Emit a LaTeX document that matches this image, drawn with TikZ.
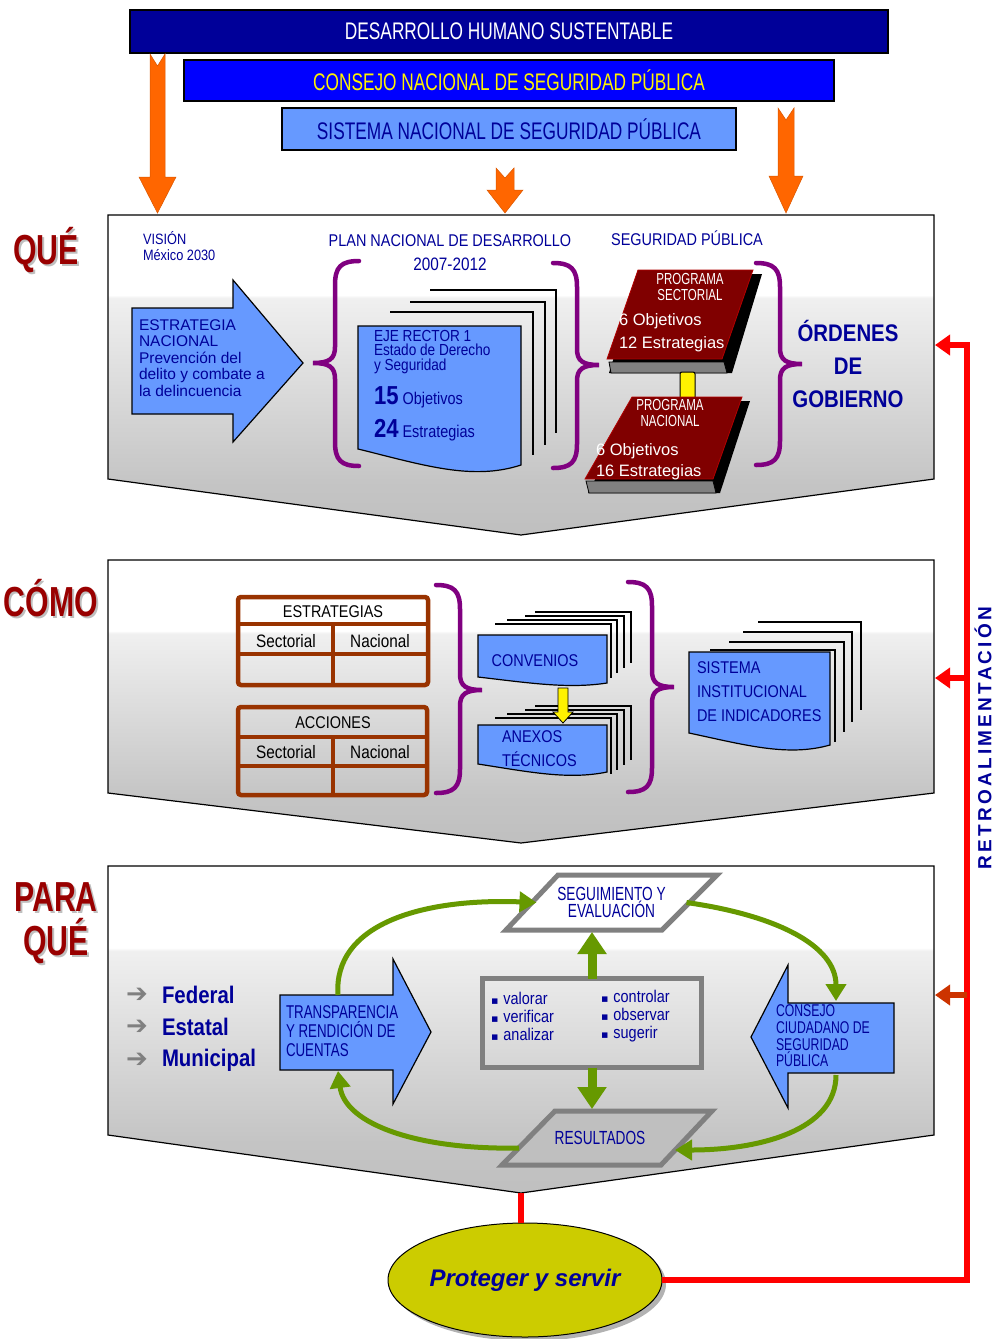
\documentclass[tikz,border=0pt]{standalone}
\usepackage{fontspec}
\setmainfont{Liberation Sans}
\newfontfamily\cf[FakeStretch=0.72]{Liberation Sans}
\newfontfamily\cfm[FakeStretch=0.85]{Liberation Sans}
\newfontfamily\djv{DejaVu Sans}
\newfontfamily\spaced[LetterSpace=17]{Liberation Sans}
\usetikzlibrary{arrows.meta,shapes.geometric}
\definecolor{navybar}{RGB}{0,0,153}
\definecolor{bblue}{RGB}{0,0,255}
\definecolor{lblue}{RGB}{102,153,255}
\definecolor{tnavy}{RGB}{0,0,153}
\definecolor{oorange}{RGB}{255,102,0}
\definecolor{bpurple}{RGB}{128,0,128}
\definecolor{bookred}{RGB}{128,0,0}
\definecolor{rust}{RGB}{153,51,0}
\definecolor{ggreen}{RGB}{102,153,0}
\definecolor{lred}{RGB}{153,0,0}
\definecolor{olivey}{RGB}{204,204,0}
\definecolor{rred}{RGB}{255,0,0}
\definecolor{dorange}{RGB}{204,51,0}
\definecolor{pgray}{RGB}{128,128,128}
\pgfdeclareverticalshading{panelshade}{100bp}{color(0bp)=(gray!50); color(25bp)=(gray!50); color(33bp)=(gray!46); color(62bp)=(gray!12); color(62.5bp)=(white); color(100bp)=(white)}
\newcommand\fz[2]{\fontsize{#1}{#2}\selectfont}
\newcommand\docshape[5]{\draw[docsty] (#1,#2) -- (#3,#2) -- (#3,#4) .. controls ({#3-0.3*(#3-#1)},{#4+#5}) and ({#1+0.4*(#3-#1)},{#4}) .. (#1,{#4-#5}) -- cycle;}
\newcommand\brc[5]{\draw[brcsty] ({#1+(#5)*24},#2) .. controls ({#1+(#5)*6},#2) and (#1,{#2+6}) .. (#1,{#2+24}) -- (#1,{#3-16}) .. controls (#1,{#3-4}) and ({#1-(#5)*6},#3) .. ({#1-(#5)*22},#3) .. controls ({#1-(#5)*6},#3) and (#1,{#3+4}) .. (#1,{#3+16}) -- (#1,{#4-24}) .. controls (#1,{#4-6}) and ({#1+(#5)*6},#4) .. ({#1+(#5)*24},#4);}
\newcommand\bul{{\djv\fontsize{11}{11}\selectfont ▪}\hspace{5pt}}
\begin{document}
\begin{tikzpicture}[x=1pt,y=-1pt,
 every node/.style={inner sep=0pt,outer sep=0pt},
 tx/.style={text=tnavy},
 bar/.style={draw=black,line width=1.2pt},
 docsty/.style={draw=black,line width=1.2pt,fill=lblue},
 stk/.style={draw=black,line width=1.4pt},
 brcsty/.style={draw=bpurple,line width=4.5pt,line cap=round},
 tbl/.style={draw=rust,line width=4.5pt},
 lab/.style={font=\cf\bfseries\fz{42}{42},text=lred},
 labsh/.style={font=\cf\bfseries\fz{42}{42},text=gray!50},
 panel/.style={shade,shading=panelshade,draw=black,line width=1.2pt},
 oarr/.style={fill=oorange,draw=oorange!85!black,line width=0.5pt},
 blk/.style={fill=lblue,draw=black,line width=1.2pt},
 book/.style={fill=bookred,draw=red!70!black,line width=0.8pt},
 garr/.style={draw=ggreen,line width=5pt,-{Triangle[length=17pt,width=20pt]}},
 gthick/.style={draw=ggreen,line width=9pt,-{Triangle[length=22pt,width=28pt]}},
 redl/.style={draw=rred,line width=6.5pt},
 pgram/.style={draw=pgray,line width=5pt,line join=miter},
 garrow/.style={text=pgray,font=\djv\bfseries\fz{26}{26}},
]
\useasboundingbox (0,0) rectangle (997,1339);

% ---------- top bars
\node[bar,fill=navybar,minimum width=758pt,minimum height=43pt,text=white,font=\cf\fz{24}{24}] (b1) at (509,31.5) {DESARROLLO HUMANO SUSTENTABLE};
\node[bar,fill=bblue,minimum width=650pt,minimum height=41pt,text=yellow,font=\cf\fz{24}{24}] (b2) at (509,80.5) {CONSEJO NACIONAL DE SEGURIDAD PÚBLICA};
\node[bar,fill=lblue,minimum width=454pt,minimum height=42pt,text=tnavy,font=\cf\fz{24}{24}] (b3) at (509,129) {SISTEMA NACIONAL DE SEGURIDAD PÚBLICA};

% ---------- panels
\path[panel] (108,215) -- (934,215) -- (934,479) -- (521,535) -- (108,479) -- cycle;
\path[panel] (108,560) -- (934,560) -- (934,793) -- (521,843) -- (108,793) -- cycle;
\path[panel] (108,866) -- (934,866) -- (934,1135) -- (521,1193) -- (108,1135) -- cycle;
\coordinate (p1r) at (935,345);
\coordinate (p2r) at (935,678);
\coordinate (p3r) at (935,995);
\coordinate (p3apex) at (521,1193);

% ---------- orange arrows
\path[oarr] (150,54) -- (157.5,66) -- (165,54) -- (165,177) -- (176,177) -- (157.5,213) -- (139,177) -- (150,177) -- cycle;
\path[oarr] (496,168) -- (505,178) -- (514,168) -- (514,190) -- (523,190) -- (505,213) -- (487,190) -- (496,190) -- cycle;
\path[oarr] (778,108) -- (786,120) -- (794,108) -- (794,176) -- (803,176) -- (786,213) -- (769,176) -- (778,176) -- cycle;

% ---------- section labels
\node[labsh] (lq1s) at (48,252) {QUÉ};
\node[lab] (lq1) at (46,250) {QUÉ};
\node[labsh] (lc1s) at (53,600) {CÓMO};
\node[lab] (lc1) at (51,598) {CÓMO};
\node[labsh] (lp1s) at (58,899) {PARA};
\node[lab] (lp1) at (56,897) {PARA};
\node[labsh] (lp2s) at (58,943) {QUÉ};
\node[lab] (lp2) at (56,941) {QUÉ};

% ---------- QUÉ panel
\node[tx,anchor=west,align=left,font=\cfm\fz{15}{16}] (vis) at (143,246) {VISIÓN\\México 2030};
\path[blk] (132,308) -- (233,308) -- (233,280) -- (303,363) -- (233,442) -- (233,414) -- (132,414) -- cycle;
\node[tx,anchor=west,align=left,font=\fz{15.5}{16.5}] (estr) at (139,358) {ESTRATEGIA\\NACIONAL\\Prevención del\\delito y combate a\\la delincuencia};
\node[tx,font=\cfm\fz{17}{17}] (plan) at (450,241) {PLAN NACIONAL DE DESARROLLO};
\node[tx,font=\cfm\fz{18}{18}] (yrs) at (450,264) {2007-2012};
\brc{335}{261}{363}{466}{1}
\brc{577}{263}{365}{468}{-1}
\draw[stk] (430,290) -- (556,290) -- (556,433);
\draw[stk] (410,302) -- (545,302) -- (545,445);
\draw[stk] (390,312) -- (533,312) -- (533,455);
\docshape{358}{326}{521}{465}{16}
\node[tx,anchor=west,align=left,font=\cfm\fz{16}{14.5}] (eje) at (374,352) {EJE RECTOR 1\\Estado de Derecho\\y Seguridad};
\node[tx,anchor=west,font=\cfm\fz{17}{17}] (o15) at (374,397) {{\bfseries\fontsize{26}{26}\selectfont 15} Objetivos};
\node[tx,anchor=west,font=\cfm\fz{17}{17}] (e24) at (374,430) {{\bfseries\fontsize{26}{26}\selectfont 24} Estrategias};
\node[tx,font=\cfm\fz{17}{17}] (segp) at (687,238) {SEGURIDAD PÚBLICA};
% book 1
\path[fill=black] (640,274) -- (762,274) -- (732,373) -- (609,373) -- cycle;
\path[fill=pgray,draw=black,line width=0.8pt] (609,362) -- (724,362) -- (727,373) -- (611,373) -- cycle;
\path[book] (638,270) -- (753,270) -- (722,359) -- (607,359) -- cycle;
\node[text=white,align=center,font=\cf\fz{16}{15.5}] (ps1) at (690,287) {PROGRAMA\\SECTORIAL};
\node[text=white,anchor=west,align=left,font=\fz{16.5}{23}] (ps1b) at (619,333) {6 Objetivos\\12 Estrategias};
% link
\draw[fill=yellow,draw=black,line width=1pt,rounded corners=2pt] (680,372) rectangle (695,399);
% book 2
\path[fill=black] (636,401) -- (750,401) -- (720,493) -- (588,493) -- cycle;
\path[fill=pgray,draw=black,line width=0.8pt] (586,481) -- (713,481) -- (716,493) -- (589,493) -- cycle;
\path[book] (632,397) -- (742,397) -- (713,479) -- (585,479) -- cycle;
\node[text=white,align=center,font=\cf\fz{16}{15.5}] (pn1) at (670,413) {PROGRAMA\\NACIONAL};
\node[text=white,anchor=west,align=left,font=\fz{16.5}{21}] (pn1b) at (596,462) {6 Objetivos\\16 Estrategias};
\brc{780}{263}{364}{465}{-1}
\node[tx,align=center,font=\cfm\bfseries\fz{24}{33}] (ord) at (848,364) {ÓRDENES\\DE\\GOBIERNO};

% ---------- CÓMO panel
\draw[tbl,rounded corners=3pt] (238,597) rectangle (428,685);
\draw[tbl] (238,624) -- (428,624) (238,654) -- (428,654) (333,624) -- (333,685);
\node[font=\cfm\fz{17}{17}] (t1h) at (333,612) {ESTRATEGIAS};
\node[font=\cfm\fz{18}{18}] (t1a) at (286,641) {Sectorial};
\node[font=\cfm\fz{18}{18}] (t1b) at (380,641) {Nacional};
\draw[tbl,rounded corners=3pt] (238,707) rectangle (427,795);
\draw[tbl] (238,737) -- (427,737) (238,766) -- (427,766) (333,737) -- (333,795);
\node[font=\cfm\fz{17}{17}] (t2h) at (333,723) {ACCIONES};
\node[font=\cfm\fz{18}{18}] (t2a) at (286,752) {Sectorial};
\node[font=\cfm\fz{18}{18}] (t2b) at (380,752) {Nacional};
\brc{460}{585}{690}{793}{-1}
\brc{652}{582}{687}{792}{-1}
\draw[stk] (535,612) -- (631,612) -- (631,663);
\draw[stk] (525,616) -- (624,616) -- (624,668);
\draw[stk] (507,620) -- (617,620) -- (617,673);
\draw[stk] (495,624) -- (611,624) -- (611,678);
\docshape{478}{635}{607}{683}{6}
\node[tx,font=\cfm\fz{17}{17}] (conv) at (535,661) {CONVENIOS};
\draw[stk] (535,706) -- (631,706) -- (631,760);
\draw[stk] (525,710) -- (624,710) -- (624,765);
\draw[stk] (507,714) -- (617,714) -- (617,770);
\draw[stk] (495,718) -- (611,718) -- (611,774);
\docshape{478}{725}{607}{772}{8}
\node[tx,anchor=west,align=left,font=\cfm\fz{17}{24}] (anx) at (502,749) {ANEXOS\\TÉCNICOS};
\path[fill=yellow,draw=black,line width=0.8pt] (558,688) -- (568,688) -- (568,712) -- (573,712) -- (563,723) -- (553,712) -- (558,712) -- cycle;
\draw[stk] (758,622) -- (861,622) -- (861,710);
\draw[stk] (743,632) -- (852,632) -- (852,722);
\draw[stk] (729,642) -- (844,642) -- (844,732);
\draw[stk] (710,650) -- (835,650) -- (835,742);
\docshape{689}{652}{830}{745}{12}
\node[tx,anchor=west,align=left,font=\cfm\fz{17}{24}] (sid) at (697,692) {SISTEMA\\INSTITUCIONAL\\DE INDICADORES};

% ---------- PARA QUÉ panel
\node[garrow] (ar1) at (137,995) {➔};
\node[garrow] (ar2) at (137,1027) {➔};
\node[garrow] (ar3) at (137,1060) {➔};
\node[tx,anchor=west,font=\cfm\bfseries\fz{24}{24}] (fed) at (162,995) {Federal};
\node[tx,anchor=west,font=\cfm\bfseries\fz{24}{24}] (est) at (162,1027) {Estatal};
\node[tx,anchor=west,font=\cfm\bfseries\fz{24}{24}] (mun) at (162,1060) {Municipal};
\path[blk] (280,995) -- (393,995) -- (393,959) -- (431,1032) -- (393,1104) -- (393,1070) -- (280,1070) -- cycle;
\node[tx,anchor=west,align=left,font=\cf\fz{18.5}{19}] (trt) at (286,1031) {TRANSPARENCIA\\Y RENDICIÓN DE\\CUENTAS};
\coordinate (trtop) at (338,995);
\coordinate (trbot) at (338,1071);
\path[blk] (894,1003) -- (788,1003) -- (788,965) -- (751,1037) -- (788,1108) -- (788,1073) -- (894,1073) -- cycle;
\node[tx,anchor=west,align=left,font=\cf\fz{17}{16.7}] (cons) at (776,1036) {CONSEJO\\CIUDADANO DE\\SEGURIDAD\\PÚBLICA};
\coordinate (constop) at (836,1001);
\coordinate (consbot) at (836,1075);
\node[draw=pgray,line width=5pt,minimum width=219pt,minimum height=89pt] (cb) at (592,1023) {};
\node[tx,anchor=west,align=left,font=\cfm\fz{17}{18}] (bl) at (491,1016) {\bul valorar\\\bul verificar\\\bul analizar};
\node[tx,anchor=west,align=left,font=\cfm\fz{17}{18}] (br) at (601,1016) {\bul controlar\\\bul observar\\\bul sugerir};
\path[pgram,fill=white] (558,875) -- (717,875) -- (662,930) -- (506,930) -- cycle;
\node[tx,align=center,font=\cf\fz{19}{16},minimum width=150pt,minimum height=55pt] (seg) at (611.5,902.5) {SEGUIMIENTO Y\\EVALUACIÓN};
\path[pgram,fill=gray!50] (555,1111) -- (712,1111) -- (661,1165) -- (502,1165) -- cycle;
\node[tx,font=\cf\fz{19}{19},minimum width=150pt,minimum height=54pt] (res) at (600,1138) {RESULTADOS};
\draw[gthick,shorten >=2pt] (cb.north) -- (cb.north |- seg.south);
\draw[gthick,shorten >=2pt] (cb.south) -- (cb.south |- res.north);
\draw[garr] (trtop) .. controls (333,925) and (420,898) .. (seg.west);
\draw[garr] (seg.east) .. controls (775,915) and (836,945) .. (constop);
\draw[garr] (consbot) .. controls (836,1130) and (760,1150) .. ([yshift=-12pt]res.east);
\draw[garr] ([xshift=-6pt,yshift=-10pt]res.west) .. controls (420,1150) and (345,1125) .. (trbot);

% ---------- bottom ellipse and feedback
\fill[gray!60] (529,1284) ellipse [x radius=137, y radius=57];
\node[ellipse,draw=black,line width=1pt,fill=olivey,minimum width=274pt,minimum height=114pt,text=tnavy,font=\bfseries\itshape\fz{24}{24}] (ps) at (525,1280) {Proteger y servir};
\coordinate (fbc) at (967,1280);
\coordinate (fbtop) at (967,345);
\coordinate (fbmid) at (967,678);
\coordinate (fbbot) at (967,995);
\draw[redl] (p3apex) -- (p3apex |- ps.north);
\draw[redl,line join=miter,-{Triangle[length=15pt,width=20pt]}] (ps.east) -- (fbc) -- (fbtop) -- (p1r);
\draw[redl,-{Triangle[length=15pt,width=20pt]}] (fbmid) -- (p2r);
\draw[redl,draw=dorange,-{Triangle[length=15pt,width=20pt]}] (fbbot) -- (p3r);
\node[tx,rotate=90,font=\spaced\bfseries\fz{19}{19}] (retro) at (983,738) {RETROALIMENTACIÓN};
\end{tikzpicture}
\end{document}
